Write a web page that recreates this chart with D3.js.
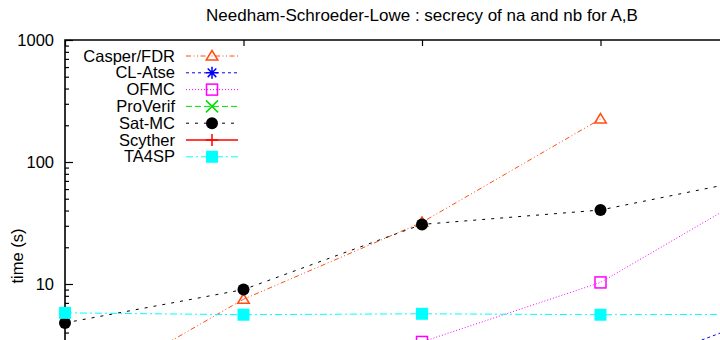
<!DOCTYPE html>
<html>
<head>
<meta charset="utf-8">
<script src="https://cdn.jsdelivr.net/npm/d3@7"></script>
<style>
  html, body { margin: 0; padding: 0; background: #fff; }
  svg { display: block; }
  text { font-family: "Liberation Sans", Arial, Helvetica, sans-serif; fill: #000; }
</style>
</head>
<body>
<svg id="chart" width="720" height="340"></svg>
<script>
// Number of sessions on the x axis
const sessions = [1, 2, 3, 4, 5];

// Verification time in seconds per tool (null = no result)
const casperFDR = [1.08, 7.5, 32, 225, null];
const clAtse    = [null, null, null, 1.7, 6.0];
const ofmc      = [null, null, 3.35, 10.3, 73];
const proVerif  = [];
const satMC     = [4.8, 9.0, 30.8, 40.4, 80];
const scyther   = [];
const ta4sp     = [5.8, 5.6, 5.7, 5.6, 5.65];

const yMajorTicks = [10, 100, 1000];
const titleText = "Needham-Schroeder-Lowe : secrecy of na and nb for A,B";
const yLabel = "time (s)";

const series = [
  { name: "Casper/FDR", values: casperFDR, color: "#ff4e12", dash: "5,2.5,1,2.5,1,2.5", marker: "triangle", width: 1 },
  { name: "CL-Atse",    values: clAtse,    color: "#0000ff", dash: "3,3",  marker: "star",   width: 1 },
  { name: "OFMC",       values: ofmc,      color: "#ff00ff", dash: "1,2",  marker: "squareOpen", width: 1 },
  { name: "ProVerif",   values: proVerif,  color: "#00e000", dash: "6,3",  marker: "cross",  width: 1 },
  { name: "Sat-MC",     values: satMC,     color: "#000000", dash: "3,6",  marker: "circle", width: 1 },
  { name: "Scyther",    values: scyther,   color: "#ff0000", dash: null,   marker: "plus",   width: 1.5 },
  { name: "TA4SP",      values: ta4sp,     color: "#00ffff", dash: "7,3,2,3", marker: "squareFill", width: 1 }
];

const svg = d3.select("#chart");
const plot = { left: 65, top: 40, right: 779, bottom: 406 };

const x = d3.scaleLinear().domain([1, 5]).range([plot.left, plot.right]);
const y = d3.scaleLog().domain([1, 1000]).range([plot.bottom, plot.top]);

svg.append("defs").append("clipPath").attr("id", "plotClip")
  .append("rect")
  .attr("x", plot.left).attr("y", plot.top)
  .attr("width", plot.right - plot.left).attr("height", plot.bottom - plot.top);

// Title
svg.append("text")
  .attr("x", 422).attr("y", 20.5)
  .attr("text-anchor", "middle")
  .style("font-size", "17px")
  .text(titleText);

// Y axis label
svg.append("text")
  .attr("transform", "translate(23,256) rotate(-90)")
  .attr("text-anchor", "middle")
  .style("font-size", "16.5px")
  .text(yLabel);

// Border: left and top
svg.append("path")
  .attr("d", `M${plot.left},${plot.bottom}V${plot.top}H${plot.right}`)
  .attr("fill", "none").attr("stroke", "#000").attr("stroke-width", 1.6);

// Major y ticks with labels (ticks point into the plot)
const yAxis = d3.axisLeft(y)
  .tickValues(yMajorTicks)
  .tickFormat(d3.format("d"))
  .tickSizeInner(-8).tickSizeOuter(0).tickPadding(11);
const gy = svg.append("g").attr("transform", `translate(${plot.left},0)`).call(yAxis);
gy.select(".domain").remove();
gy.selectAll("line").attr("stroke", "#000").attr("stroke-width", 1.2);
gy.selectAll("text").style("font-size", "16.5px").style("font-family", "'Liberation Sans', Arial, sans-serif").attr("fill", "#000");

// Minor y ticks
const minor = [];
[1, 10, 100].forEach(dec => { for (let k = 2; k <= 9; k++) minor.push(dec * k); });
const yMinor = d3.axisLeft(y).tickValues(minor).tickFormat("").tickSizeInner(-4).tickSizeOuter(0);
const gym = svg.append("g").attr("transform", `translate(${plot.left},0)`).call(yMinor);
gym.select(".domain").remove();
gym.selectAll("line").attr("stroke", "#000").attr("stroke-width", 1.2);

// X ticks on the top border (no labels)
const xTop = d3.axisTop(x).tickValues(sessions).tickFormat("").tickSizeInner(-6).tickSizeOuter(0);
const gx = svg.append("g").attr("transform", `translate(0,${plot.top})`).call(xTop);
gx.select(".domain").remove();
gx.selectAll("line").attr("stroke", "#000").attr("stroke-width", 1.2);

// Marker shapes
function drawMarker(g, type, cx, cy, color) {
  const s = 6;
  if (type === "triangle") {
    g.append("path")
      .attr("d", `M${cx},${cy - 5.5}L${cx + 5.8},${cy + 4}L${cx - 5.8},${cy + 4}Z`)
      .attr("fill", "none").attr("stroke", color).attr("stroke-width", 1.5);
  } else if (type === "star") {
    g.append("path")
      .attr("d", `M${cx - s},${cy}H${cx + s}M${cx},${cy - s}V${cy + s}` +
                 `M${cx - 4.3},${cy - 4.3}L${cx + 4.3},${cy + 4.3}M${cx - 4.3},${cy + 4.3}L${cx + 4.3},${cy - 4.3}`)
      .attr("stroke", color).attr("stroke-width", 1.5).attr("fill", "none");
  } else if (type === "squareOpen") {
    g.append("rect").attr("x", cx - 5.5).attr("y", cy - 5.5).attr("width", 11).attr("height", 11)
      .attr("fill", "none").attr("stroke", color).attr("stroke-width", 1.5);
  } else if (type === "cross") {
    g.append("path")
      .attr("d", `M${cx - s},${cy - s}L${cx + s},${cy + s}M${cx - s},${cy + s}L${cx + s},${cy - s}`)
      .attr("stroke", color).attr("stroke-width", 1.5).attr("fill", "none");
  } else if (type === "circle") {
    g.append("circle").attr("cx", cx).attr("cy", cy).attr("r", 6).attr("fill", color);
  } else if (type === "plus") {
    g.append("path")
      .attr("d", `M${cx - s},${cy}H${cx + s}M${cx},${cy - s}V${cy + s}`)
      .attr("stroke", color).attr("stroke-width", 1.5).attr("fill", "none");
  } else if (type === "squareFill") {
    g.append("rect").attr("x", cx - 6).attr("y", cy - 6).attr("width", 12).attr("height", 12)
      .attr("fill", color);
  }
}

// Data series
const line = d3.line()
  .defined(d => d.v != null)
  .x(d => x(d.s))
  .y(d => y(d.v));

series.forEach(sr => {
  const pts = sessions.map((s, i) => ({ s, v: sr.values[i] === undefined ? null : sr.values[i] }));
  const g = svg.append("g");
  g.append("path")
    .datum(pts)
    .attr("clip-path", "url(#plotClip)")
    .attr("d", line)
    .attr("fill", "none")
    .attr("stroke", sr.color)
    .attr("stroke-width", sr.width)
    .attr("stroke-dasharray", sr.dash);
  pts.filter(d => d.v != null).forEach(d => drawMarker(g, sr.marker, x(d.s), y(d.v), sr.color));
});

// Legend
const legend = svg.append("g");
const legendTop = 56, legendStep = 16.8;
series.forEach((sr, i) => {
  const cy = legendTop + i * legendStep;
  legend.append("text")
    .attr("x", 175).attr("y", cy).attr("dy", "0.34em")
    .attr("text-anchor", "end")
    .style("font-size", "16.5px")
    .text(sr.name);
  legend.append("line")
    .attr("x1", 186).attr("x2", 238).attr("y1", cy).attr("y2", cy)
    .attr("stroke", sr.color).attr("stroke-width", sr.width)
    .attr("stroke-dasharray", sr.dash);
  drawMarker(legend, sr.marker, 212, cy, sr.color);
});
</script>
</body>
</html>
